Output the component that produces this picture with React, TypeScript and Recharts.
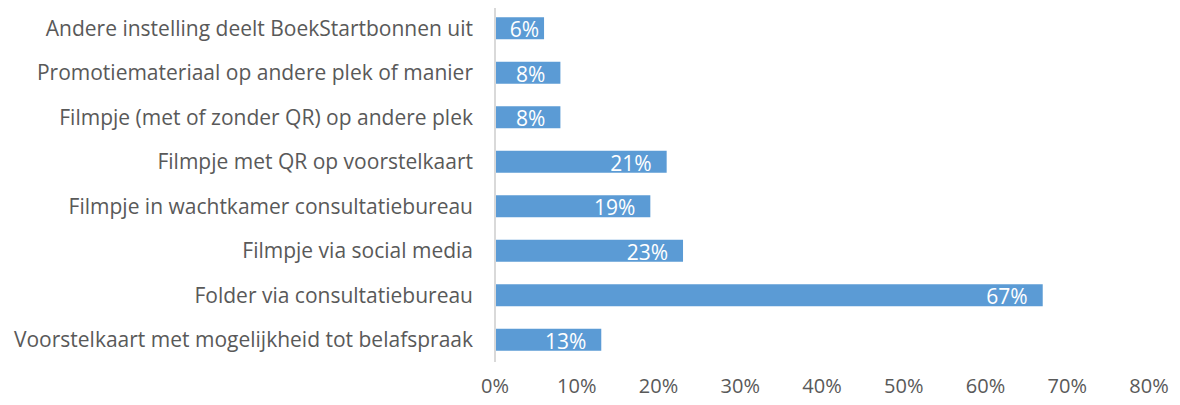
import React from 'react';
import { BarChart, Bar, XAxis, YAxis } from 'recharts';

const categories = [
  'Andere instelling deelt BoekStartbonnen uit',
  'Promotiemateriaal op andere plek of manier',
  'Filmpje (met of zonder QR) op andere plek',
  'Filmpje met QR op voorstelkaart ',
  'Filmpje in wachtkamer consultatiebureau',
  'Filmpje via social media',
  'Folder via consultatiebureau',
  'Voorstelkaart met mogelijkheid tot belafspraak',
];
const values = [6, 8, 8, 21, 19, 23, 67, 13];
const xTicks = [0, 10, 20, 30, 40, 50, 60, 70, 80];

const data = categories.map((name, i) => ({ name, value: values[i] }));

const font = '"Open Sans", sans-serif';

// white value label, right aligned inside the bar end
const ValueLabel = (props: any) => {
  const { x, y, width, height, value } = props;
  // short bars: Excel pushes the label closer to the end
  const pad = width < 60 ? 5 : 15;
  return (
    <text
      x={x + width - pad}
      y={y + height / 2 + 1}
      textAnchor="end"
      dominantBaseline="central"
      fill="#ffffff"
      fontSize={21}
      fontFamily={font}
    >
      {`${value}%`}
    </text>
  );
};

export default function App() {
  return (
    <div style={{ margin: -8, width: 1180, height: 405, background: '#fff', fontFamily: font }}>
      <BarChart
        width={1180}
        height={405}
        data={data}
        layout="vertical"
        margin={{ top: 6, right: 31, left: 0, bottom: 0 }}
        barCategoryGap="25%"
      >
        <XAxis
          type="number"
          dataKey="value"
          domain={[0, 80]}
          ticks={xTicks}
          tickFormatter={(v) => `${v}%`}
          axisLine={false}
          tickLine={false}
          tickSize={0}
          tickMargin={17}
          height={43}
          tick={{ fontSize: 20, fill: '#595959', fontFamily: font }}
        />
        <YAxis
          type="category"
          dataKey="name"
          width={495}
          axisLine={{ stroke: '#d9d9d9', strokeWidth: 2 }}
          tickLine={false}
          tickSize={0}
          tickMargin={22}
          tick={{ fontSize: 21, fill: '#595959', fontFamily: font }}
          interval={0}
        />
        <Bar dataKey="value" fill="#5b9bd5" isAnimationActive={false} label={<ValueLabel />} />
      </BarChart>
    </div>
  );
}
